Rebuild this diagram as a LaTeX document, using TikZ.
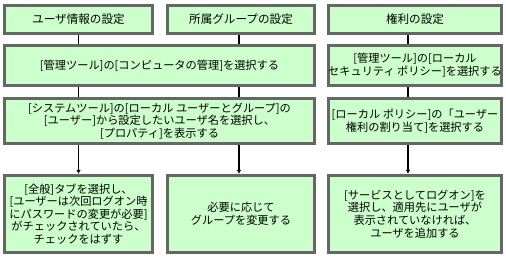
\documentclass[tikz,border=0pt]{standalone}
\usepackage{fontspec}
\newfontfamily\jp{Noto Sans CJK JP}
\usetikzlibrary{arrows.meta}
\definecolor{boxfill}{HTML}{CCFFCC}
\definecolor{boxedge}{HTML}{666666}
\tikzset{
  box/.style={draw=boxedge, line width=3.2pt, fill=boxfill, inner sep=0pt,
    align=center, font=\jp\fontsize{11.2}{12.6}\selectfont},
  link/.style={line width=1.6pt, black},
  arr/.style={link, -{Latex[length=4pt,width=4.5pt]}}
}
\begin{document}
\begin{tikzpicture}[x=1pt,y=1pt]
\useasboundingbox (0,0) rectangle (506,-258);
% row 1
\node[box, minimum width=148pt, minimum height=28pt] (A1) at (78.5,-19.5) {\fontsize{11.6}{12.6}\selectfont ユーザ情報の設定};
\node[box, minimum width=147pt, minimum height=28pt] (A2) at (241,-19.5) {\fontsize{11.6}{12.6}\selectfont 所属グループの設定};
\node[box, minimum width=173pt, minimum height=28pt] (A3) at (415,-19.5) {\fontsize{11.6}{12.6}\selectfont 権利の設定};
% row 2
\node[box, minimum width=310pt, minimum height=40pt] (B12) at (159.5,-65.5) {{[}管理ツール]の[コンピュータの管理]を選択する};
\node[box, minimum width=173pt, minimum height=40pt] (B3) at (415,-65.5) {{[}管理ツール]の[ローカル\\セキュリティ ポリシー]を選択する};
% row 3
\node[box, minimum width=310pt, minimum height=45pt] (C12) at (159.5,-121) {{[}システムツール]の[ローカル ユーザーとグループ]の\\{}[ユーザー]から設定したいユーザ名を選択し、\\{}[プロパティ]を表示する};
\node[box, minimum width=173pt, minimum height=45pt] (C3) at (415,-121) {{[}ローカル ポリシー]の「ユーザー\\権利の割り当て]を選択する};
% row 4
\node[box, minimum width=148pt, minimum height=77pt] (D1) at (78.5,-214) {{[}全般]タブを選択し、\\{}[ユーザーは次回ログオン時\\にパスワードの変更が必要]\\がチェックされていたら、\\チェックをはずす};
\node[box, minimum width=147pt, minimum height=77pt] (D2) at (241,-214) {必要に応じて\\グループを変更する};
\node[box, minimum width=173pt, minimum height=77pt] (D3) at (415,-214) {{[}サービスとしてログオン]を\\選択し、適用先にユーザが\\表示されていなければ、\\ユーザを追加する};
% connectors
\draw[link] (A1.south) -- (A1.south |- B12.north);
\draw[link] ([xshift=-2pt]A2.south) -- ([xshift=-2pt]A2.south |- B12.north);
\draw[link] ([xshift=-7pt]A3.south) -- ([xshift=-7pt]B3.north);
\draw[link] (A1.south |- B12.south) -- (A1.south |- C12.north);
\draw[link] ([xshift=-2pt]A2.south |- B12.south) -- ([xshift=-2pt]A2.south |- C12.north);
\draw[link] ([xshift=-7pt]B3.south) -- ([xshift=-7pt]C3.north);
\draw[arr] (D1.north |- C12.south) -- (D1.north);
\draw[arr] ([xshift=-2pt]D2.north |- C12.south) -- ([xshift=-2pt]D2.north);
\draw[arr] ([xshift=-7pt]C3.south) -- ([xshift=-7pt]D3.north);
\end{tikzpicture}
\end{document}
